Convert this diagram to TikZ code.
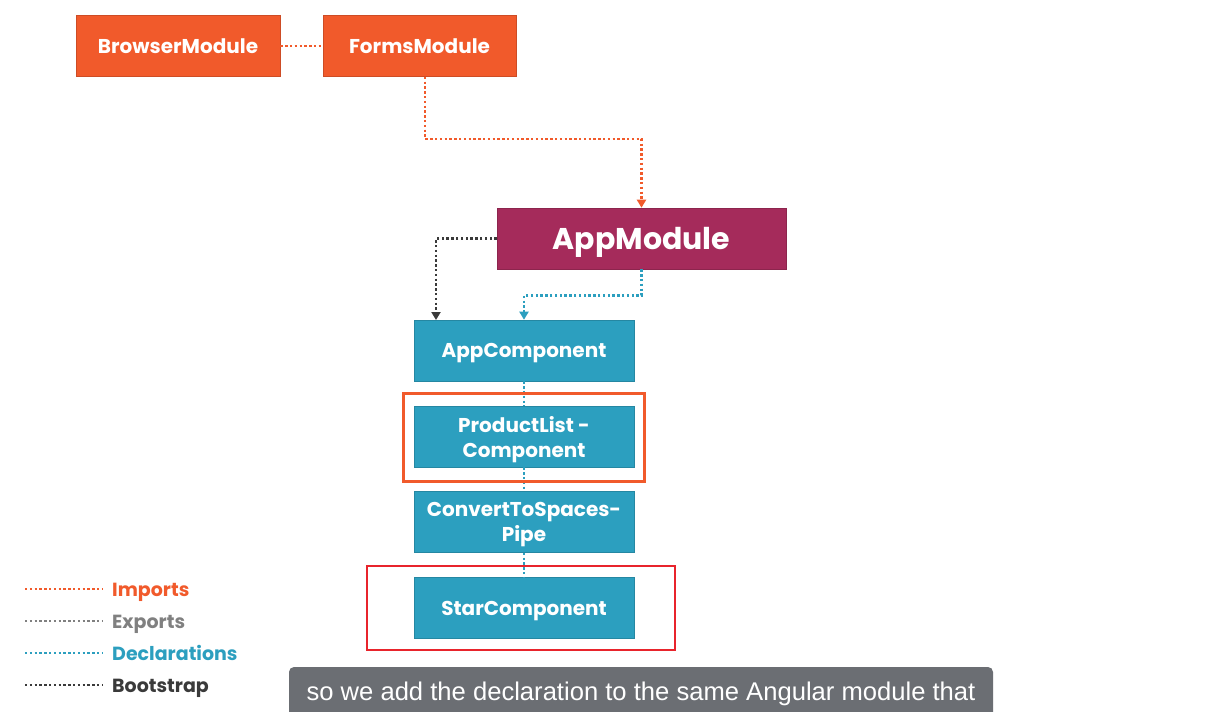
\documentclass[tikz,border=0pt]{standalone}
\usepackage{fontspec}
\setmainfont{Poppins}
\newfontfamily\capfont{Liberation Sans}
\usetikzlibrary{arrows.meta}

\definecolor{impcol}{HTML}{F15A2B}
\definecolor{expcol}{HTML}{808080}
\definecolor{declcol}{HTML}{2C9FBF}
\definecolor{bootcol}{HTML}{3A3A3A}
\definecolor{appcol}{HTML}{A52B5B}
\definecolor{markcol}{HTML}{E8242C}
\definecolor{capcol}{HTML}{6B6E73}

\tikzset{
  modbox/.style={fill=#1, draw=#1!85!black, line width=0.6pt, text=white,
    minimum height=61pt, inner sep=0pt, align=center, text depth=0pt,
    font=\fontsize{20}{25}\selectfont\bfseries},
  compbox/.style={modbox=declcol, minimum width=220pt},
  link/.style={line width=2.6pt, dash pattern=on 2.4pt off 2.4pt, draw=#1},
  tip/.style={-{Triangle[width=9pt,length=8pt]}},
  legendtext/.style={anchor=base west, inner sep=0pt, text=#1,
    font=\fontsize{19}{22}\selectfont\bfseries}
}

\begin{document}
\begin{tikzpicture}[x=1pt, y=-1pt]
  \useasboundingbox[fill=white] (0,0) rectangle (1210,712);

  % modules
  \node[modbox=impcol, minimum width=204pt] (browser) at (178,46) {BrowserModule};
  \node[modbox=impcol, minimum width=193pt] (forms) at (419.5,46) {FormsModule};
  \node[modbox=appcol, minimum width=289pt,
        font=\fontsize{30}{32}\selectfont\bfseries] (app) at (641.5,238.5) {AppModule};

  % components
  \node[compbox] (appcomp) at (524,350.5) {AppComponent};
  \node[compbox] (plist) at (524,436.5) {ProductList -\\Component};
  \node[compbox] (pipe) at (524,522) {ConvertToSpaces-\\Pipe};
  \node[compbox] (star) at (524,608) {StarComponent};

  % connectors
  \draw[link=impcol] (browser.east) -- (forms.west);
  \draw[link=impcol, tip] (forms.south) ++(5.5,0) coordinate (fdown)
    -- ++(0,62) -| (app.north);
  \coordinate (bootend) at (436,320);
  \draw[link=bootcol, tip] (app.west) -| (bootend);
  \draw[link=declcol, tip] (app.south) -- ++(0,26) -| (appcomp.north);
  \draw[link=declcol] (appcomp.south) -- (plist.north);
  \draw[link=declcol] (plist.south) -- (pipe.north);
  \draw[link=declcol] (pipe.south) -- (star.north);

  % highlights
  \draw[impcol, line width=3pt] (403,393) rectangle (644,481);
  \draw[markcol, line width=1.5pt] (367,566) rectangle (675,650);

  % legend
  \draw[link=impcol] (25,589) -- (102,589);
  \node[legendtext=impcol] (limp) at (112,596) {Imports};
  \draw[link=expcol] (25,621) -- (102,621);
  \node[legendtext=expcol] (lexp) at (112,628) {Exports};
  \draw[link=declcol] (25,653) -- (102,653);
  \node[legendtext=declcol] (ldecl) at (112,660) {Declarations};
  \draw[link=bootcol] (25,685) -- (102,685);
  \node[legendtext=bootcol] (lboot) at (112,692) {Bootstrap};

  % caption
  \fill[capcol] (289,712) [rounded corners=5pt] -- (289,667) -- (993,667)
    [sharp corners] -- (993,712) -- cycle;
  \node[text=white, inner sep=0pt, anchor=base,
        font=\capfont\fontsize{25.6}{28}\selectfont] (caption) at (641,700)
    {so we add the declaration to the same Angular module that};
\end{tikzpicture}
\end{document}
